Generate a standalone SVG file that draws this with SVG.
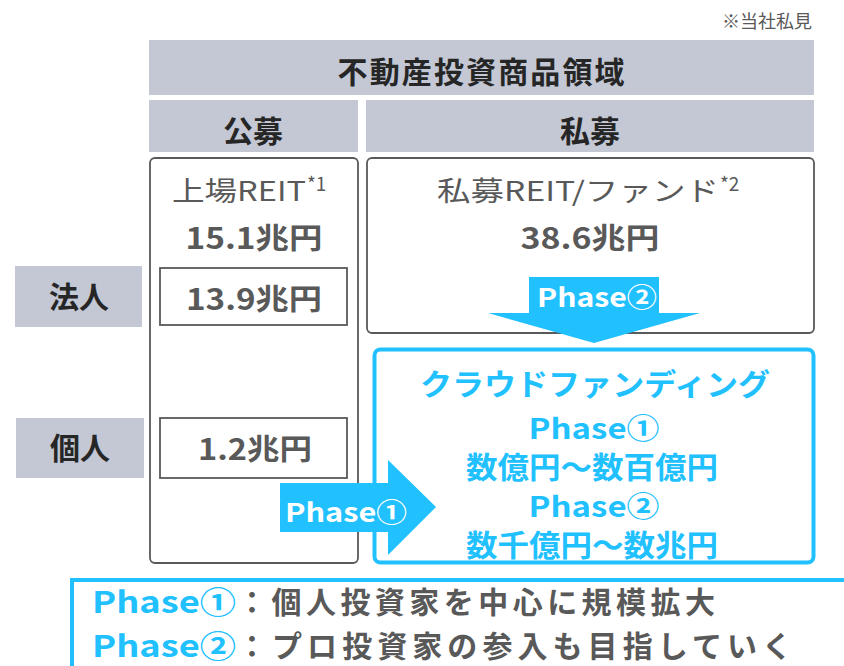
<svg xmlns="http://www.w3.org/2000/svg" width="844" height="666" viewBox="0 0 844 666">
<style>
text{font-family:"Noto Sans CJK JP","Noto Sans",sans-serif;}
.band{fill:#c3c8d4;}
.hd{font-weight:bold;fill:#262626;font-size:30px;text-anchor:middle;}
.box{fill:#fff;stroke:#595959;stroke-width:1.8;}
.val{font-weight:bold;fill:#595959;font-size:29px;text-anchor:middle;}
.lbl{fill:#595959;font-size:27px;}
.sup{fill:#595959;font-size:19px;}
.blue{fill:#21c0ff;}
.bt{font-weight:bold;fill:#21c0ff;font-size:30px;text-anchor:middle;}
.ph{font-size:28px;}
.wt{font-weight:bold;fill:#fff;font-size:26px;text-anchor:middle;}
.bot{font-weight:bold;font-size:30px;}
</style>
<text x="812" y="28" font-size="18" fill="#595959" text-anchor="end">※当社私見</text>
<g id="header"><rect class="band" x="149" y="40" width="665" height="55"/><text class="hd" x="481" y="83" textLength="287" lengthAdjust="spacing">不動産投資商品領域</text></g>
<g id="public"><rect class="band" x="149" y="100" width="209" height="52"/><text class="hd" x="253" y="142">公募</text></g>
<g id="private"><rect class="band" x="366" y="100" width="448" height="52"/><text class="hd" x="590" y="142">私募</text></g>
<g id="corp"><rect class="band" x="15" y="266" width="127" height="61"/><text class="hd" x="79" y="308">法人</text></g>
<g id="indiv"><rect class="band" x="16" y="418" width="128" height="60"/><text class="hd" x="80" y="459">個人</text></g>
<g id="listed">
<rect class="box" x="150" y="158" width="208" height="405" rx="5"/>
<text class="lbl" x="172" y="201" textLength="134" lengthAdjust="spacingAndGlyphs">上場REIT</text>
<text class="sup" x="307" y="191">*1</text>
<text class="val" x="254" y="249" textLength="137" lengthAdjust="spacingAndGlyphs">15.1兆円</text>
</g>
<g id="corp-val"><rect class="box" x="160" y="268" width="187" height="57" stroke-width="1.5"/><text class="val" x="254" y="310" textLength="136" lengthAdjust="spacingAndGlyphs">13.9兆円</text></g>
<g id="indiv-val"><rect class="box" x="160" y="418" width="187" height="60" stroke-width="1.5"/><text class="val" x="255" y="460" textLength="114" lengthAdjust="spacingAndGlyphs">1.2兆円</text></g>
<g id="privfund">
<rect class="box" x="367" y="158" width="447" height="175" rx="5"/>
<text class="lbl" x="437" y="201" textLength="282" lengthAdjust="spacingAndGlyphs">私募REIT/ファンド</text>
<text class="sup" x="720" y="191">*2</text>
<text class="val" x="590" y="249" textLength="139" lengthAdjust="spacingAndGlyphs">38.6兆円</text>
</g>
<g id="crowd">
<rect x="374.5" y="349.5" width="439" height="213" rx="6" fill="#fff" stroke="#21c0ff" stroke-width="4"/>
<text class="bt" x="595" y="395" textLength="350" lengthAdjust="spacingAndGlyphs">クラウドファンディング</text>
<text class="bt ph" x="594" y="439" textLength="131" lengthAdjust="spacingAndGlyphs">Phase①</text>
<text class="bt" x="592" y="478" textLength="252" lengthAdjust="spacingAndGlyphs">数億円～数百億円</text>
<text class="bt ph" x="594" y="517" textLength="131" lengthAdjust="spacingAndGlyphs">Phase②</text>
<text class="bt" x="592" y="556" textLength="252" lengthAdjust="spacingAndGlyphs">数千億円～数兆円</text>
</g>
<g id="connectors">
<g id="arrow2"><polygon class="blue" points="529,277 659,277 659,313 700,313 594,343 488,313 529,313"/><text class="wt" x="597" y="307" textLength="120" lengthAdjust="spacingAndGlyphs">Phase②</text></g>
<g id="arrow1"><polygon class="blue" points="280,483 388,483 388,460 436,507 388,555 388,532 280,532"/><text class="wt" x="346" y="522" textLength="122" lengthAdjust="spacingAndGlyphs">Phase①</text></g>
</g>
<g id="note">
<rect x="72" y="580" width="800" height="120" fill="#fff" stroke="#21c0ff" stroke-width="4"/>
<text class="bot" x="92" y="613" fill="#21c0ff" textLength="144" lengthAdjust="spacingAndGlyphs">Phase①</text>
<text class="bot" x="237" y="613" fill="#595959" textLength="478" lengthAdjust="spacing">：個人投資家を中心に規模拡大</text>
<text class="bot" x="92" y="657" fill="#21c0ff" textLength="144" lengthAdjust="spacingAndGlyphs">Phase②</text>
<text class="bot" x="237" y="657" fill="#595959" textLength="555" lengthAdjust="spacing">：プロ投資家の参入も目指していく</text>
</g>
</svg>
